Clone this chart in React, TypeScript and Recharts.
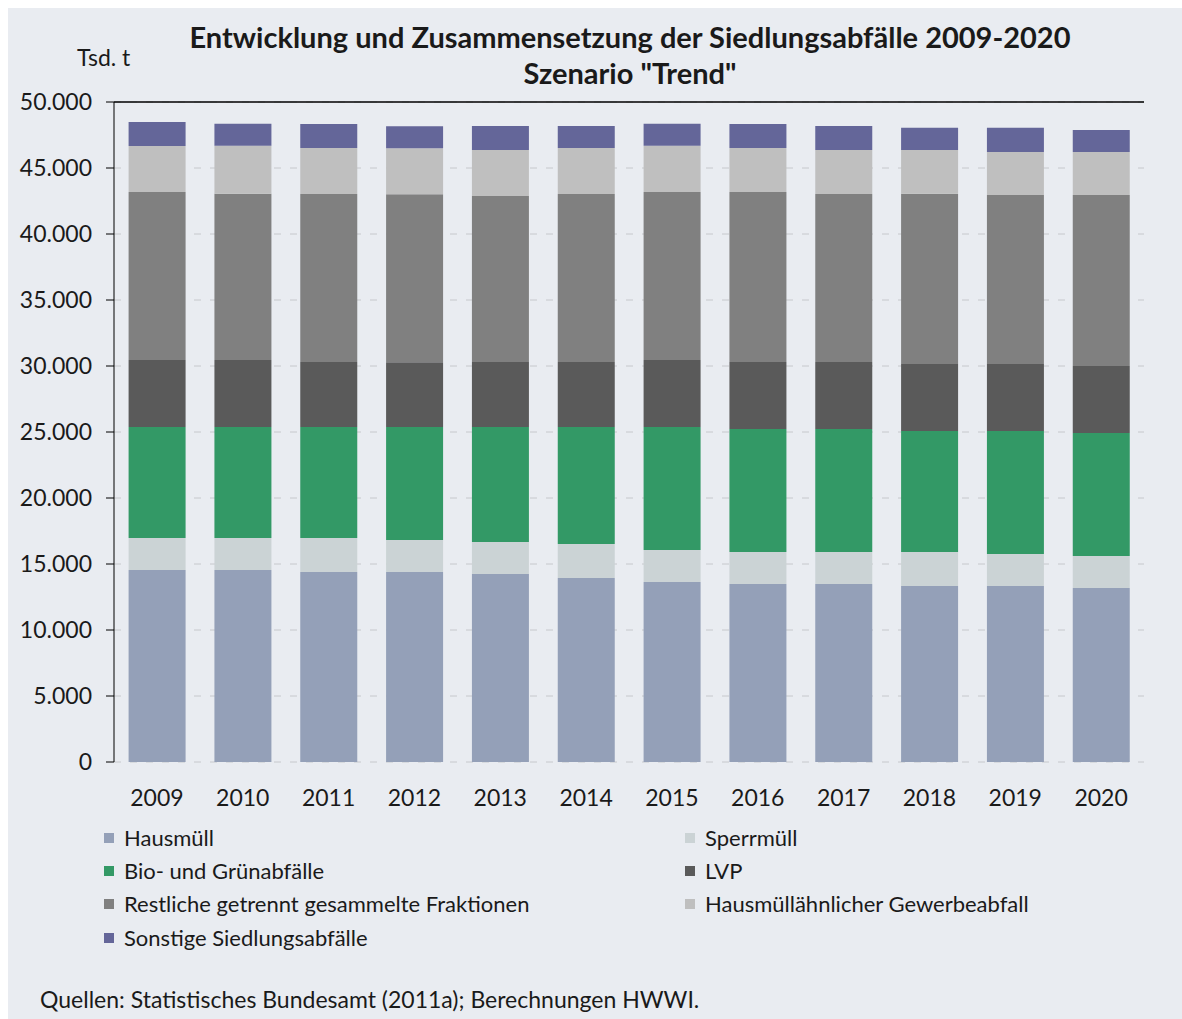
import { BarChart, Bar, XAxis, YAxis, CartesianGrid, ReferenceLine } from 'recharts';

const years = ['2009', '2010', '2011', '2012', '2013', '2014', '2015', '2016', '2017', '2018', '2019', '2020'];

// Tsd. t, von unten nach oben gestapelt
const hausmuell = [14550, 14550, 14390, 14390, 14240, 13940, 13640, 13480, 13480, 13330, 13330, 13180];
const sperrmuell = [2420, 2420, 2580, 2420, 2430, 2580, 2420, 2430, 2420, 2580, 2430, 2420];
const bioGruen = [8410, 8410, 8410, 8560, 8710, 8860, 9320, 9320, 9320, 9170, 9320, 9320];
const lvp = [5080, 5080, 4920, 4920, 4920, 4920, 5080, 5070, 5080, 5080, 5080, 5080];
const restliche = [12730, 12580, 12730, 12730, 12580, 12730, 12730, 12880, 12730, 12880, 12800, 12950];
const gewerbe = [3480, 3640, 3480, 3480, 3490, 3480, 3490, 3330, 3330, 3330, 3260, 3260];
const sonstige = [1820, 1670, 1820, 1670, 1820, 1670, 1670, 1820, 1820, 1670, 1820, 1670];

const yTicks = [0, 5000, 10000, 15000, 20000, 25000, 30000, 35000, 40000, 45000, 50000];
const edgeTicks = [0, 1, 2, 3, 4, 5, 6, 7, 8, 9, 10, 11, 12];

const series = [
  { key: 'hausmuell', name: 'Hausmüll', color: '#94A0B8', values: hausmuell },
  { key: 'sperrmuell', name: 'Sperrmüll', color: '#CBD3D5', values: sperrmuell },
  { key: 'bio', name: 'Bio- und Grünabfälle', color: '#339966', values: bioGruen },
  { key: 'lvp', name: 'LVP', color: '#5A5A5A', values: lvp },
  { key: 'rest', name: 'Restliche getrennt gesammelte Fraktionen', color: '#808080', values: restliche },
  { key: 'gewerbe', name: 'Hausmüllähnlicher Gewerbeabfall', color: '#BFBFBF', values: gewerbe },
  { key: 'sonstige', name: 'Sonstige Siedlungsabfälle', color: '#646699', values: sonstige },
];

const data = years.map((year, i) => {
  const row: Record<string, string | number> = { year };
  series.forEach((s) => {
    row[s.key] = s.values[i];
  });
  return row;
});

const FONT = 'Lato, "Noto Sans", sans-serif';
const TEXT = '#1a1a1a';

function formatDe(v: number): string {
  return String(v).replace(/\B(?=(\d{3})+(?!\d))/g, '.');
}

export default function App() {
  return (
    <div
      style={{
        position: 'fixed',
        left: 8,
        top: 8,
        right: 0,
        bottom: 0,
        overflow: 'hidden',
        background: '#E9ECF1',
        fontFamily: FONT,
        color: TEXT,
      }}
    >
      <div
        style={{
          position: 'absolute',
          left: 622,
          top: 11,
          transform: 'translateX(-50%)',
          textAlign: 'center',
          fontWeight: 700,
          fontSize: 29,
          lineHeight: '36px',
          whiteSpace: 'nowrap',
        }}
      >
        <div>Entwicklung und Zusammensetzung der Siedlungsabfälle 2009-2020</div>
        <div>Szenario "Trend"</div>
      </div>

      <div style={{ position: 'absolute', left: 69, top: 35, fontSize: 23, whiteSpace: 'nowrap' }}>Tsd. t</div>

      <div style={{ position: 'absolute', left: 0, top: 0 }}>
        <BarChart
          width={1174}
          height={810}
          data={data}
          margin={{ top: 94, right: 38, left: 10, bottom: 6 }}
          barCategoryGap="17%"
        >
          <CartesianGrid vertical={false} stroke="#C6C8CC" strokeDasharray="7 9" />
          <XAxis
            xAxisId="edges"
            type="number"
            domain={[0, 12]}
            ticks={edgeTicks}
            height={0}
            tick={false}
            tickSize={6}
            axisLine={{ stroke: '#333333' }}
            tickLine={{ stroke: '#333333' }}
            allowDataOverflow
          />
          <XAxis
            dataKey="year"
            height={50}
            axisLine={false}
            tickLine={false}
            tickSize={6}
            tickMargin={22}
            tick={{ fontSize: 23, fill: TEXT, fontFamily: FONT }}
          />
          <YAxis
            domain={[0, 50000]}
            ticks={yTicks}
            width={96}
            tickSize={8}
            tickMargin={14}
            tickFormatter={formatDe}
            axisLine={{ stroke: '#000000' }}
            tickLine={{ stroke: '#000000' }}
            tick={{ fontSize: 23, fill: TEXT, fontFamily: FONT }}
            interval={0}
          />
          <YAxis
            yAxisId="right"
            orientation="right"
            domain={[0, 50000]}
            width={0}
            tick={false}
            tickLine={false}
            axisLine={{ stroke: '#7F7F7F', strokeWidth: 2 }}
          />
          {series.map((s) => (
            <Bar
              key={s.key}
              dataKey={s.key}
              name={s.name}
              stackId="a"
              fill={s.color}
              isAnimationActive={false}
            />
          ))}
          <ReferenceLine y={50000} stroke="#000000" strokeWidth={1.5} />
        </BarChart>
      </div>

      <div
        style={{
          position: 'absolute',
          left: 96,
          top: 813,
          display: 'grid',
          gridTemplateColumns: '581px auto',
          gridAutoRows: '33.3px',
          fontSize: 22,
          lineHeight: '28px',
        }}
      >
        {series.map((s) => (
          <div key={s.key} style={{ display: 'flex', alignItems: 'center', whiteSpace: 'nowrap' }}>
            <span style={{ display: 'inline-block', width: 10, height: 10, background: s.color, marginRight: 10 }} />
            <span>{s.name}</span>
          </div>
        ))}
      </div>

      <div style={{ position: 'absolute', left: 32, top: 977, fontSize: 23, whiteSpace: 'nowrap' }}>
        Quellen: Statistisches Bundesamt (2011a); Berechnungen HWWI.
      </div>
    </div>
  );
}
